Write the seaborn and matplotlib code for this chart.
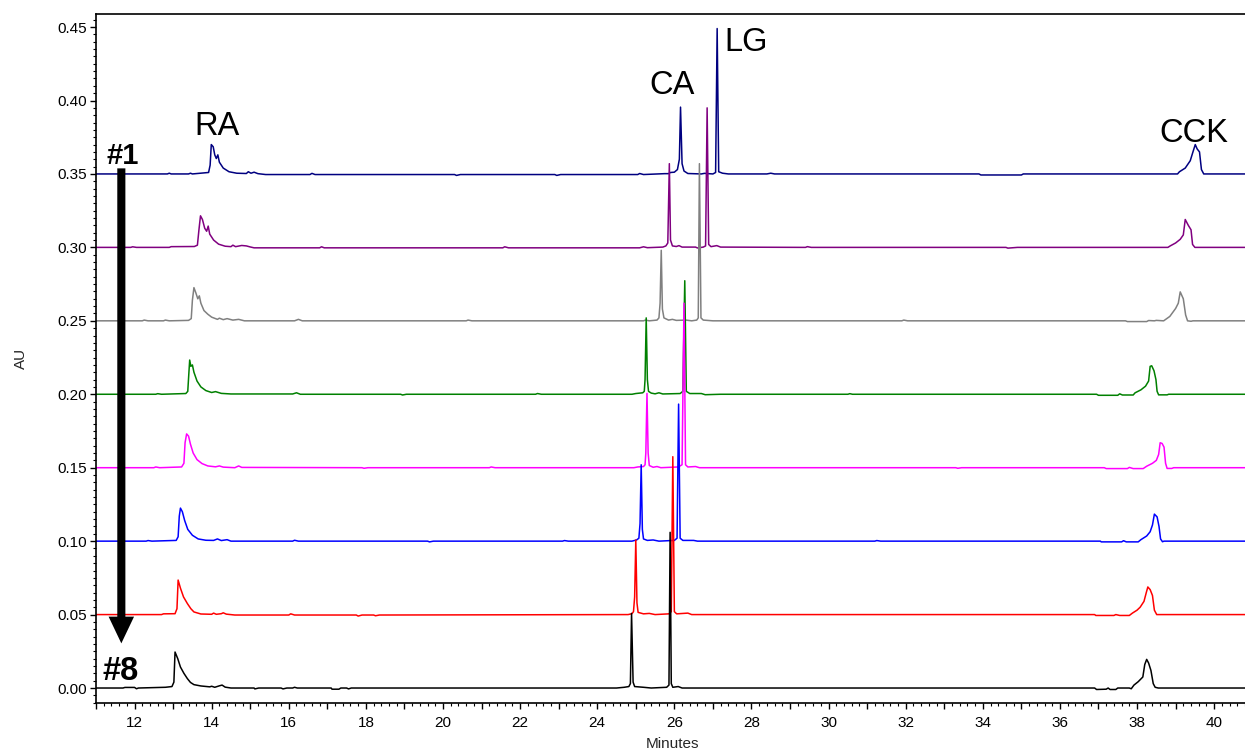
import matplotlib
matplotlib.use("Agg")
import matplotlib.pyplot as plt
from matplotlib.ticker import MultipleLocator, FuncFormatter, FormatStrFormatter
import pandas as pd
import seaborn as sns

# Injection labels, stacking offsets (AU) and trace colours, #1 on top
sample_ids = ["#1", "#2", "#3", "#4", "#5", "#6", "#7", "#8"]
offsets = [0.35, 0.30, 0.25, 0.20, 0.15, 0.10, 0.05, 0.00]
colors = ["#000080", "#800080", "#808080", "#008000",
          "#ff00ff", "#0000ff", "#ff0000", "#000000"]

# Detector signal above baseline: (minutes, AU)
trace_1 = [
    (11.00, 0.0000), (12.85, 0.0000), (12.90, 0.0005), (12.95, 0.0000),
    (13.40, 0.0000), (13.45, 0.0005), (13.50, 0.0000), (13.92, 0.0010),
    (13.96, 0.0060), (13.99, 0.0200), (14.04, 0.0185), (14.08, 0.0130),
    (14.12, 0.0105), (14.16, 0.0130), (14.20, 0.0080), (14.30, 0.0040),
    (14.45, 0.0015), (14.65, 0.0005), (14.90, 0.0003), (14.95, 0.0015),
    (15.02, 0.0005), (15.10, 0.0012), (15.20, 0.0002), (15.40, -0.0004),
    (16.55, -0.0004), (16.60, 0.0004), (16.68, -0.0004), (20.30, -0.0004),
    (20.35, -0.0010), (20.45, -0.0004), (22.90, -0.0004), (22.95, -0.0010),
    (23.05, -0.0004), (25.05, -0.0004), (25.10, 0.0003), (25.20, -0.0004),
    (25.75, 0.0002), (25.85, 0.0002), (25.90, 0.0010), (26.00, 0.0012),
    (26.08, 0.0030), (26.13, 0.0100), (26.16, 0.0455), (26.20, 0.0070),
    (26.25, 0.0020), (26.35, 0.0003), (26.70, 0.0000), (26.78, 0.0004),
    (27.00, 0.0000), (27.07, 0.0010), (27.11, 0.0990), (27.15, 0.0015),
    (27.25, 0.0005), (27.40, 0.0000), (28.40, 0.0000), (28.50, 0.0005),
    (28.60, 0.0000), (33.90, 0.0000), (33.95, -0.0007), (35.00, -0.0007),
    (35.05, 0.0000), (39.05, 0.0000), (39.10, 0.0015), (39.25, 0.0040),
    (39.38, 0.0090), (39.45, 0.0150), (39.51, 0.0200), (39.56, 0.0170),
    (39.62, 0.0150), (39.67, 0.0030), (39.73, 0.0000), (40.80, 0.0000),
]
trace_2 = [
    (11.00, 0.0000), (11.90, 0.0000), (11.95, 0.0004), (12.05, 0.0000),
    (12.90, 0.0000), (12.95, 0.0005), (13.55, 0.0006), (13.63, 0.0015),
    (13.67, 0.0120), (13.71, 0.0215), (13.76, 0.0190), (13.82, 0.0130),
    (13.87, 0.0110), (13.91, 0.0145), (13.95, 0.0090), (14.05, 0.0050),
    (14.18, 0.0022), (14.35, 0.0008), (14.50, 0.0005), (14.55, 0.0015),
    (14.62, 0.0005), (14.78, 0.0013), (14.90, 0.0010), (15.00, 0.0003),
    (15.10, -0.0003), (16.80, -0.0003), (16.85, 0.0004), (16.92, -0.0003),
    (21.55, -0.0003), (21.60, 0.0004), (21.70, -0.0003), (25.10, -0.0003),
    (25.20, 0.0004), (25.30, -0.0002), (25.70, 0.0002), (25.78, 0.0010),
    (25.83, 0.0030), (25.87, 0.0570), (25.90, 0.0050), (25.95, 0.0010),
    (26.05, 0.0006), (26.12, 0.0012), (26.20, 0.0002), (26.55, 0.0002),
    (26.60, -0.0004), (26.75, 0.0002), (26.81, 0.0010), (26.85, 0.0950),
    (26.89, 0.0020), (26.95, 0.0005), (27.10, 0.0012), (27.20, 0.0002),
    (29.40, 0.0000), (29.45, 0.0005), (29.55, 0.0000), (34.60, 0.0000),
    (34.65, -0.0005), (34.90, 0.0000), (38.80, 0.0000), (38.86, 0.0010),
    (39.00, 0.0030), (39.12, 0.0055), (39.20, 0.0085), (39.25, 0.0190),
    (39.33, 0.0150), (39.40, 0.0120), (39.44, 0.0020), (39.50, 0.0000),
    (40.80, 0.0000),
]
trace_3 = [
    (11.00, 0.0000), (12.20, 0.0000), (12.25, 0.0005), (12.35, 0.0000),
    (12.75, 0.0000), (12.80, 0.0005), (12.90, 0.0000), (13.40, 0.0003),
    (13.47, 0.0015), (13.50, 0.0140), (13.54, 0.0226), (13.59, 0.0190),
    (13.64, 0.0150), (13.68, 0.0170), (13.72, 0.0120), (13.80, 0.0070),
    (13.90, 0.0045), (14.00, 0.0025), (14.15, 0.0010), (14.20, 0.0018),
    (14.30, 0.0008), (14.40, 0.0015), (14.55, 0.0005), (14.70, 0.0010),
    (14.85, 0.0000), (16.15, 0.0000), (16.25, 0.0010), (16.35, 0.0000),
    (20.60, 0.0000), (20.65, 0.0005), (20.75, 0.0000), (25.20, 0.0000),
    (25.25, 0.0005), (25.35, 0.0000), (25.55, 0.0005), (25.60, 0.0020),
    (25.63, 0.0120), (25.66, 0.0480), (25.69, 0.0080), (25.73, 0.0020),
    (25.85, 0.0005), (25.95, 0.0010), (26.05, 0.0003), (26.30, 0.0005),
    (26.45, 0.0000), (26.58, 0.0005), (26.62, 0.0020), (26.65, 0.1070),
    (26.69, 0.0020), (26.75, 0.0005), (27.00, 0.0000), (31.90, 0.0000),
    (31.95, 0.0005), (32.05, 0.0000), (37.70, 0.0000), (37.75, -0.0005),
    (38.25, -0.0005), (38.30, 0.0002), (38.45, 0.0000), (38.50, 0.0003),
    (38.69, 0.0000), (38.85, 0.0030), (39.00, 0.0084), (39.07, 0.0120),
    (39.12, 0.0197), (39.20, 0.0150), (39.26, 0.0040), (39.31, 0.0000),
    (39.40, -0.0003), (39.45, 0.0000), (40.80, 0.0000),
]
trace_4 = [
    (11.00, 0.0000), (12.55, 0.0000), (12.60, 0.0004), (12.70, 0.0000),
    (13.33, 0.0005), (13.38, 0.0020), (13.41, 0.0150), (13.43, 0.0233),
    (13.46, 0.0190), (13.50, 0.0200), (13.54, 0.0150), (13.62, 0.0090),
    (13.72, 0.0050), (13.85, 0.0025), (14.00, 0.0012), (14.10, 0.0018),
    (14.25, 0.0006), (14.50, 0.0002), (16.10, 0.0002), (16.20, 0.0010),
    (16.30, 0.0000), (18.90, 0.0000), (18.95, -0.0005), (19.05, 0.0000),
    (22.40, 0.0000), (22.45, 0.0005), (22.55, 0.0000), (24.90, 0.0000),
    (25.00, 0.0005), (25.18, 0.0010), (25.22, 0.0020), (25.24, 0.0100),
    (25.27, 0.0520), (25.30, 0.0100), (25.33, 0.0020), (25.40, 0.0008),
    (25.50, 0.0003), (25.60, 0.0010), (25.70, 0.0002), (26.15, 0.0005),
    (26.22, 0.0020), (26.27, 0.0773), (26.31, 0.0020), (26.40, 0.0005),
    (26.70, 0.0005), (26.80, -0.0003), (27.20, 0.0000), (30.50, 0.0000),
    (30.55, 0.0004), (30.62, 0.0000), (36.95, 0.0000), (37.00, -0.0007),
    (37.50, -0.0007), (37.55, 0.0003), (37.62, -0.0005), (37.90, -0.0005),
    (37.95, 0.0010), (38.10, 0.0030), (38.22, 0.0055), (38.30, 0.0090),
    (38.34, 0.0190), (38.38, 0.0194), (38.44, 0.0160), (38.49, 0.0100),
    (38.52, 0.0020), (38.56, -0.0004), (38.78, -0.0004), (38.82, 0.0000),
    (40.80, 0.0000),
]
trace_5 = [
    (11.00, 0.0000), (12.50, 0.0000), (12.55, 0.0005), (12.65, 0.0000),
    (13.22, 0.0005), (13.28, 0.0030), (13.31, 0.0170), (13.35, 0.0230),
    (13.40, 0.0215), (13.45, 0.0160), (13.52, 0.0100), (13.62, 0.0055),
    (13.75, 0.0028), (13.90, 0.0012), (14.10, 0.0006), (14.20, 0.0012),
    (14.30, 0.0004), (14.60, 0.0000), (14.70, 0.0012), (14.78, 0.0002),
    (17.90, 0.0000), (17.95, -0.0004), (18.05, 0.0000), (21.20, 0.0000),
    (21.25, 0.0005), (21.35, 0.0000), (24.95, 0.0000), (25.05, 0.0005),
    (25.20, 0.0008), (25.24, 0.0020), (25.26, 0.0100), (25.29, 0.0506),
    (25.32, 0.0100), (25.35, 0.0015), (25.45, 0.0003), (25.55, 0.0008),
    (25.65, 0.0000), (26.10, 0.0005), (26.20, 0.0020), (26.25, 0.1120),
    (26.29, 0.0020), (26.35, 0.0005), (26.55, 0.0008), (26.65, 0.0000),
    (33.30, 0.0000), (33.35, -0.0004), (33.45, 0.0000), (37.15, 0.0000),
    (37.20, -0.0006), (37.75, -0.0006), (37.80, 0.0002), (37.90, -0.0006),
    (38.16, -0.0006), (38.25, 0.0010), (38.40, 0.0030), (38.50, 0.0050),
    (38.56, 0.0090), (38.60, 0.0170), (38.65, 0.0165), (38.70, 0.0140),
    (38.74, 0.0030), (38.78, -0.0005), (38.90, -0.0005), (38.95, 0.0000),
    (40.80, 0.0000),
]
trace_6 = [
    (11.00, 0.0000), (12.30, 0.0000), (12.35, 0.0004), (12.45, 0.0000),
    (13.08, 0.0005), (13.13, 0.0030), (13.16, 0.0170), (13.19, 0.0225),
    (13.24, 0.0200), (13.30, 0.0140), (13.38, 0.0080), (13.50, 0.0040),
    (13.65, 0.0015), (13.85, 0.0006), (14.05, 0.0005), (14.15, 0.0015),
    (14.25, 0.0004), (14.40, 0.0010), (14.50, 0.0000), (16.10, 0.0000),
    (16.15, 0.0006), (16.25, 0.0000), (19.60, 0.0000), (19.65, -0.0005),
    (19.75, 0.0000), (23.10, 0.0000), (23.15, 0.0004), (23.25, 0.0000),
    (24.90, 0.0000), (25.02, 0.0008), (25.08, 0.0020), (25.11, 0.0120),
    (25.14, 0.0520), (25.17, 0.0080), (25.20, 0.0015), (25.30, 0.0005),
    (25.45, 0.0008), (25.60, 0.0000), (26.00, 0.0005), (26.07, 0.0020),
    (26.11, 0.0933), (26.15, 0.0020), (26.22, 0.0005), (26.50, 0.0005),
    (26.60, 0.0000), (31.20, 0.0000), (31.25, 0.0004), (31.35, 0.0000),
    (37.05, 0.0000), (37.07, -0.0005), (37.60, -0.0005), (37.65, 0.0003),
    (37.72, -0.0005), (38.03, -0.0005), (38.10, 0.0010), (38.25, 0.0035),
    (38.34, 0.0064), (38.40, 0.0110), (38.45, 0.0184), (38.52, 0.0165),
    (38.57, 0.0100), (38.61, 0.0015), (38.66, -0.0004), (38.70, 0.0000),
    (40.80, 0.0000),
]
trace_7 = [
    (11.00, 0.0000), (12.70, 0.0000), (12.75, 0.0005), (13.05, 0.0006),
    (13.10, 0.0040), (13.13, 0.0235), (13.19, 0.0180), (13.27, 0.0120),
    (13.37, 0.0075), (13.46, 0.0040), (13.54, 0.0018), (13.72, 0.0004),
    (14.00, 0.0002), (14.05, 0.0010), (14.12, 0.0002), (14.25, 0.0006),
    (14.30, 0.0012), (14.38, 0.0003), (14.60, -0.0003), (16.00, -0.0003),
    (16.05, 0.0005), (16.15, -0.0003), (17.75, -0.0003), (17.80, -0.0010),
    (17.90, -0.0003), (18.20, -0.0003), (18.25, -0.0008), (18.35, -0.0003),
    (24.80, 0.0000), (24.90, 0.0006), (24.94, 0.0020), (24.97, 0.0120),
    (25.00, 0.0508), (25.03, 0.0080), (25.06, 0.0015), (25.20, 0.0005),
    (25.35, 0.0008), (25.50, 0.0000), (25.86, 0.0005), (25.92, 0.0020),
    (25.96, 0.1075), (26.00, 0.0020), (26.06, 0.0005), (26.35, 0.0010),
    (26.45, 0.0000), (36.90, 0.0000), (36.93, -0.0006), (37.40, -0.0006),
    (37.45, 0.0000), (37.55, -0.0006), (37.80, -0.0006), (37.88, 0.0010),
    (38.00, 0.0030), (38.08, 0.0050), (38.18, 0.0090), (38.24, 0.0150),
    (38.28, 0.0188), (38.34, 0.0170), (38.40, 0.0130), (38.45, 0.0030),
    (38.51, 0.0000), (40.80, 0.0000),
]
trace_8 = [
    (11.00, 0.0000), (11.70, 0.0000), (11.75, 0.0004), (12.00, 0.0004),
    (12.05, -0.0005), (12.10, 0.0000), (12.80, 0.0005), (12.97, 0.0010),
    (13.02, 0.0040), (13.05, 0.0245), (13.12, 0.0200), (13.19, 0.0143),
    (13.28, 0.0100), (13.37, 0.0064), (13.45, 0.0038), (13.54, 0.0023),
    (13.72, 0.0014), (13.95, 0.0008), (14.00, 0.0012), (14.08, 0.0005),
    (14.20, 0.0015), (14.27, 0.0020), (14.35, 0.0006), (14.50, 0.0000),
    (15.10, 0.0000), (15.12, -0.0006), (15.22, 0.0000), (15.80, 0.0000),
    (15.85, -0.0006), (15.95, 0.0000), (16.10, 0.0000), (16.15, 0.0005),
    (16.22, 0.0000), (17.10, 0.0000), (17.12, -0.0008), (17.30, -0.0008),
    (17.35, 0.0000), (17.50, 0.0000), (17.55, -0.0006), (17.62, 0.0000),
    (24.50, 0.0000), (24.70, 0.0005), (24.82, 0.0010), (24.86, 0.0030),
    (24.89, 0.0508), (24.93, 0.0040), (24.97, 0.0010), (25.20, 0.0005),
    (25.40, 0.0000), (25.80, 0.0005), (25.86, 0.0020), (25.89, 0.1060),
    (25.92, 0.0030), (25.96, 0.0005), (26.10, 0.0010), (26.20, 0.0000),
    (36.90, 0.0000), (36.95, -0.0010), (37.20, -0.0008), (37.25, 0.0000),
    (37.30, -0.0010), (37.45, -0.0010), (37.50, 0.0000), (37.80, 0.0000),
    (37.85, -0.0005), (37.92, 0.0020), (38.03, 0.0043), (38.15, 0.0075),
    (38.20, 0.0160), (38.25, 0.0195), (38.30, 0.0170), (38.36, 0.0120),
    (38.42, 0.0030), (38.47, 0.0005), (38.55, 0.0000), (40.80, 0.0000),
]
traces = [trace_1, trace_2, trace_3, trace_4, trace_5, trace_6, trace_7, trace_8]

# Compound labels: (text, minutes, AU baseline)
peak_labels = [("RA", 14.13, 0.3765), ("CA", 25.95, 0.4042),
               ("LG", 27.85, 0.4337), ("CCK", 39.47, 0.3715)]

rows = []
for sid, off, tr in zip(sample_ids, offsets, traces):
    for t, a in tr:
        rows.append({"Minutes": t, "AU": a + off, "sample": sid})
df = pd.DataFrame(rows)

sns.set_style("ticks")
plt.rcParams["font.family"] = ["Liberation Sans", "DejaVu Sans"]
plt.rcParams["axes.linewidth"] = 1.2

fig = plt.figure(figsize=(12.45, 7.53), dpi=100)
ax = fig.add_axes([96 / 1245, 1 - 703 / 753, 1149 / 1245, 689 / 753])

sns.lineplot(data=df, x="Minutes", y="AU", hue="sample", hue_order=sample_ids,
             palette=colors, estimator=None, sort=False, linewidth=1.1,
             legend=False, ax=ax)

ax.set_xlim(11.0, 40.8)
ax.set_ylim(-0.0102, 0.4589)

ax.xaxis.set_major_locator(MultipleLocator(1))
ax.xaxis.set_minor_locator(MultipleLocator(0.2))
ax.xaxis.set_major_formatter(
    FuncFormatter(lambda v, p: f"{v:.0f}" if round(v) % 2 == 0 else ""))
ax.yaxis.set_major_locator(MultipleLocator(0.05))
ax.yaxis.set_minor_locator(MultipleLocator(0.005))
ax.yaxis.set_major_formatter(FormatStrFormatter("%.2f"))

ax.tick_params(axis="both", which="major", length=4.5, width=1.0,
               labelsize=11, color="black", labelcolor="black")
ax.tick_params(axis="both", which="minor", length=2.3, width=0.8, color="black")
ax.tick_params(axis="x", which="major", pad=5)
ax.tick_params(axis="y", which="major", pad=2)

for side in ("left", "bottom", "top"):
    ax.spines[side].set_visible(True)
    ax.spines[side].set_color("black")
ax.spines["right"].set_visible(False)

ax.set_xlabel("Minutes", fontsize=11)
ax.set_ylabel("AU", fontsize=11)
ax.xaxis.set_label_coords(0.502, -0.049)
ax.yaxis.set_label_coords(-0.059, 0.5)

for txt, t, a in peak_labels:
    ax.text(t, a, txt, fontsize=23.5, ha="center", va="baseline", color="black")

ax.text(11.70, 0.3567, "#1", fontsize=21, fontweight="bold",
        ha="center", va="baseline", color="black")
ax.text(11.65, 0.0054, "#8", fontsize=23.5, fontweight="bold",
        ha="center", va="baseline", color="black")

# Injection-order arrow from #1 down to #8
ax.arrow(11.657, 0.3538, 0.0, 0.0304 - 0.3538, width=0.21, head_width=0.66,
         head_length=0.0182, length_includes_head=True, fc="black", ec="black",
         lw=0, zorder=5)

fig.savefig("out.png", dpi=100)
